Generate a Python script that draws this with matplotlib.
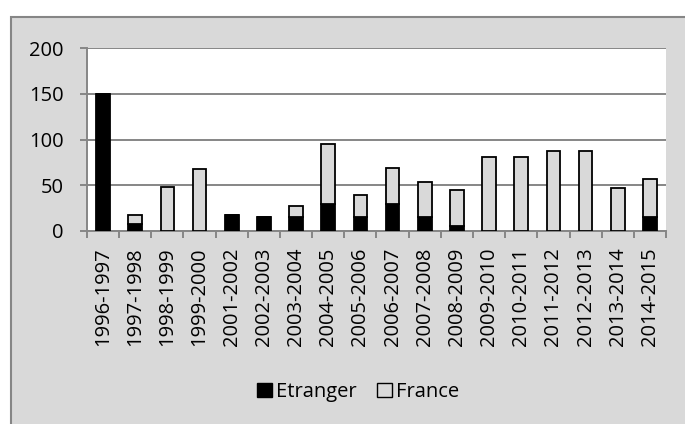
import matplotlib
matplotlib.use("Agg")
import matplotlib.pyplot as plt
from matplotlib.patches import Rectangle, Patch
import numpy as np

categories = ["1996-1997", "1997-1998", "1998-1999", "1999-2000", "2001-2002",
              "2002-2003", "2003-2004", "2004-2005", "2005-2006", "2006-2007",
              "2007-2008", "2008-2009", "2009-2010", "2010-2011", "2011-2012",
              "2012-2013", "2013-2014", "2014-2015"]
etranger = [150, 8, 0, 0, 18, 15, 15, 30, 15, 30, 15, 6, 0, 0, 0, 0, 0, 15]
france = [0, 10, 48, 68, 0, 0, 12, 65, 24, 39, 39, 39, 81, 81, 87, 87, 47, 42]
yticks = [0, 50, 100, 150, 200]

plt.rcParams['font.family'] = ['Open Sans', 'DejaVu Sans']
FS = 14.5
BG = "#d9d9d9"
GRID = "#868686"

fig = plt.figure(figsize=(6.85, 4.24), dpi=100)
fig.patch.set_facecolor("white")
W, H = 685, 424
# gray chart area with border on top and left
fig.patches.append(Rectangle((11 / W, -0.1), 1.2, 1 - 17 / H + 0.1,
                             transform=fig.transFigure, facecolor=BG,
                             edgecolor=GRID, linewidth=1.5, zorder=-10))

ax = fig.add_axes([87 / W, 1 - 231 / H, (666 - 87) / W, (231 - 48) / H])
ax.set_zorder(2)
ax.set_facecolor("white")
x = np.arange(len(categories))
bw = 0.42
ax.bar(x, etranger, width=bw, color="black", edgecolor="black", linewidth=1.3,
       zorder=3, label="Etranger")
ax.bar(x, france, width=bw, bottom=etranger, color=BG, edgecolor="black",
       linewidth=1.3, zorder=3, label="France")

ax.set_xlim(-0.5, len(categories) - 0.5)
ax.set_ylim(0, 200)
ax.set_yticks(yticks)
ax.set_yticklabels([str(v) for v in yticks], fontsize=FS)
ax.yaxis.grid(True, color=GRID, linewidth=1.4, zorder=0)
ax.set_axisbelow(True)

ax.set_xticks(x)
ax.set_xticklabels(categories, rotation=90, fontsize=FS)
ax.tick_params(axis='x', which='major', length=0, pad=12)
ax.set_xticks(np.arange(-0.5, len(categories)), minor=True)
ax.tick_params(axis='x', which='minor', length=5, width=1.4, color=GRID, direction='out')
ax.tick_params(axis='y', length=5, width=1.4, color=GRID, direction='out', pad=12)

for s in ["top", "right"]:
    ax.spines[s].set_visible(False)
for s in ["left", "bottom"]:
    ax.spines[s].set_color(GRID)
    ax.spines[s].set_linewidth(1.4)

handles = [Patch(facecolor="black", edgecolor="black", label="Etranger"),
           Patch(facecolor=BG, edgecolor="black", label="France")]
fig.legend(handles=handles, loc="center", bbox_to_anchor=(358 / W, 1 - 392 / H),
           ncol=2, frameon=False, fontsize=FS, handlelength=0.75, handleheight=0.75,
           handletextpad=0.2, columnspacing=1.0)

fig.savefig("out.png", dpi=100, facecolor=fig.get_facecolor())
